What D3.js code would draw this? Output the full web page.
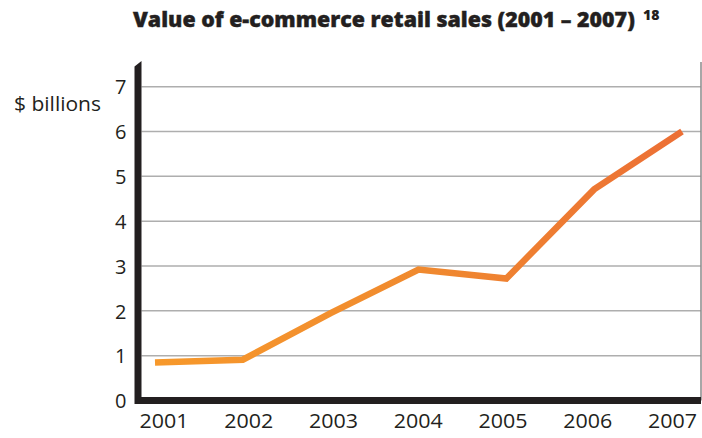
<!DOCTYPE html>
<html>
<head>
<meta charset="utf-8">
<script src="https://cdn.jsdelivr.net/npm/d3@7"></script>
<style>
  html, body { margin: 0; padding: 0; background: #fff; }
  svg { display: block; }
  .tick text { font-family: "Open Sans", sans-serif; fill: #231f20; }
</style>
</head>
<body>
<svg id="chart" width="702" height="438"></svg>
<script>
// E-commerce retail sales, $ billions
const years = ["2001", "2002", "2003", "2004", "2005", "2006", "2007"];
const sales = [0.85, 0.91, 1.95, 2.92, 2.72, 4.71, 6.0];
const yTicks = [0, 1, 2, 3, 4, 5, 6, 7];
const titleText = "Value of e-commerce retail sales (2001 – 2007)";
const noteRef = "18";
const unitLabel = "$ billions";

const svg = d3.select("#chart");

const plotLeft = 141.5, plotRight = 701, axisBottomY = 400.5;

const y = d3.scaleLinear().domain([0, 7]).range([400.5, 86.7]);
const xLine = d3.scalePoint().domain(years).range([155, 682]);
const xLabel = d3.scalePoint().domain(years).range([163.5, 672]);

// gridlines
svg.append("g")
  .selectAll("line")
  .data(yTicks.filter(d => d > 0))
  .join("line")
  .attr("x1", plotLeft).attr("x2", plotRight)
  .attr("y1", d => y(d)).attr("y2", d => y(d))
  .attr("stroke", "#aeaeae").attr("stroke-width", 1.5);

// right frame edge
svg.append("line")
  .attr("x1", plotRight).attr("x2", plotRight)
  .attr("y1", 62).attr("y2", axisBottomY)
  .attr("stroke", "#8a8a8a").attr("stroke-width", 1.5);

// line gradient, light orange to deep orange
const grad = svg.append("defs").append("linearGradient")
  .attr("id", "lineGrad")
  .attr("gradientUnits", "userSpaceOnUse")
  .attr("x1", xLine(years[0])).attr("x2", xLine(years[years.length - 1]))
  .attr("y1", 0).attr("y2", 0);
grad.append("stop").attr("offset", "0%").attr("stop-color", "#f7992b");
grad.append("stop").attr("offset", "50%").attr("stop-color", "#f08a2f");
grad.append("stop").attr("offset", "100%").attr("stop-color", "#ec6f35");

const line = d3.line()
  .x((d, i) => xLine(years[i]))
  .y(d => y(d));

svg.append("path")
  .datum(sales)
  .attr("d", line)
  .attr("fill", "none")
  .attr("stroke", "url(#lineGrad)")
  .attr("stroke-width", 6.5)
  .attr("stroke-linejoin", "miter")
  .attr("stroke-linecap", "butt");

// heavy axes
svg.append("path")
  .attr("d", `M134.5,404 L134.5,66.5 L141.5,61 L141.5,397 L701,397 L701,404 Z`)
  .attr("fill", "#231f20");

// y axis labels
const yAxis = d3.axisLeft(y).tickValues(yTicks).tickSize(0).tickPadding(8).tickFormat(d3.format("d"));
svg.append("g")
  .attr("transform", `translate(134.5,0)`)
  .call(yAxis)
  .call(g => g.select(".domain").remove())
  .call(g => g.selectAll("text").attr("font-size", 20).attr("dy", "0.36em"));

// x axis labels
const xAxis = d3.axisBottom(xLabel).tickSize(0).tickPadding(0);
svg.append("g")
  .attr("transform", `translate(0,413)`)
  .call(xAxis)
  .call(g => g.select(".domain").remove())
  .call(g => g.selectAll("text").attr("font-size", 20.5).attr("dy", "0.71em")
    .attr("textLength", 49).attr("lengthAdjust", "spacingAndGlyphs"));

// unit label
svg.append("text")
  .attr("x", 14).attr("y", 111)
  .attr("font-family", "Open Sans, sans-serif")
  .attr("font-size", 20)
  .attr("fill", "#231f20")
  .attr("textLength", 87)
  .attr("lengthAdjust", "spacingAndGlyphs")
  .text(unitLabel);

// title, sized so it spans the plot width up to the note reference
const title = svg.append("text")
  .attr("x", 133).attr("y", 27)
  .attr("font-family", "Open Sans, sans-serif")
  .attr("font-weight", 800)
  .attr("font-size", 20)
  .attr("fill", "#231f20")
  .attr("stroke", "#231f20")
  .attr("stroke-width", 0.4)
  .text(titleText);
const natural = title.node().getComputedTextLength();
title.attr("font-size", 20 * 502 / natural);

svg.append("text")
  .attr("x", 643).attr("y", 20)
  .attr("font-family", "Open Sans, sans-serif")
  .attr("font-weight", 800)
  .attr("font-size", 14)
  .attr("fill", "#231f20")
  .text(noteRef);
</script>
</body>
</html>
